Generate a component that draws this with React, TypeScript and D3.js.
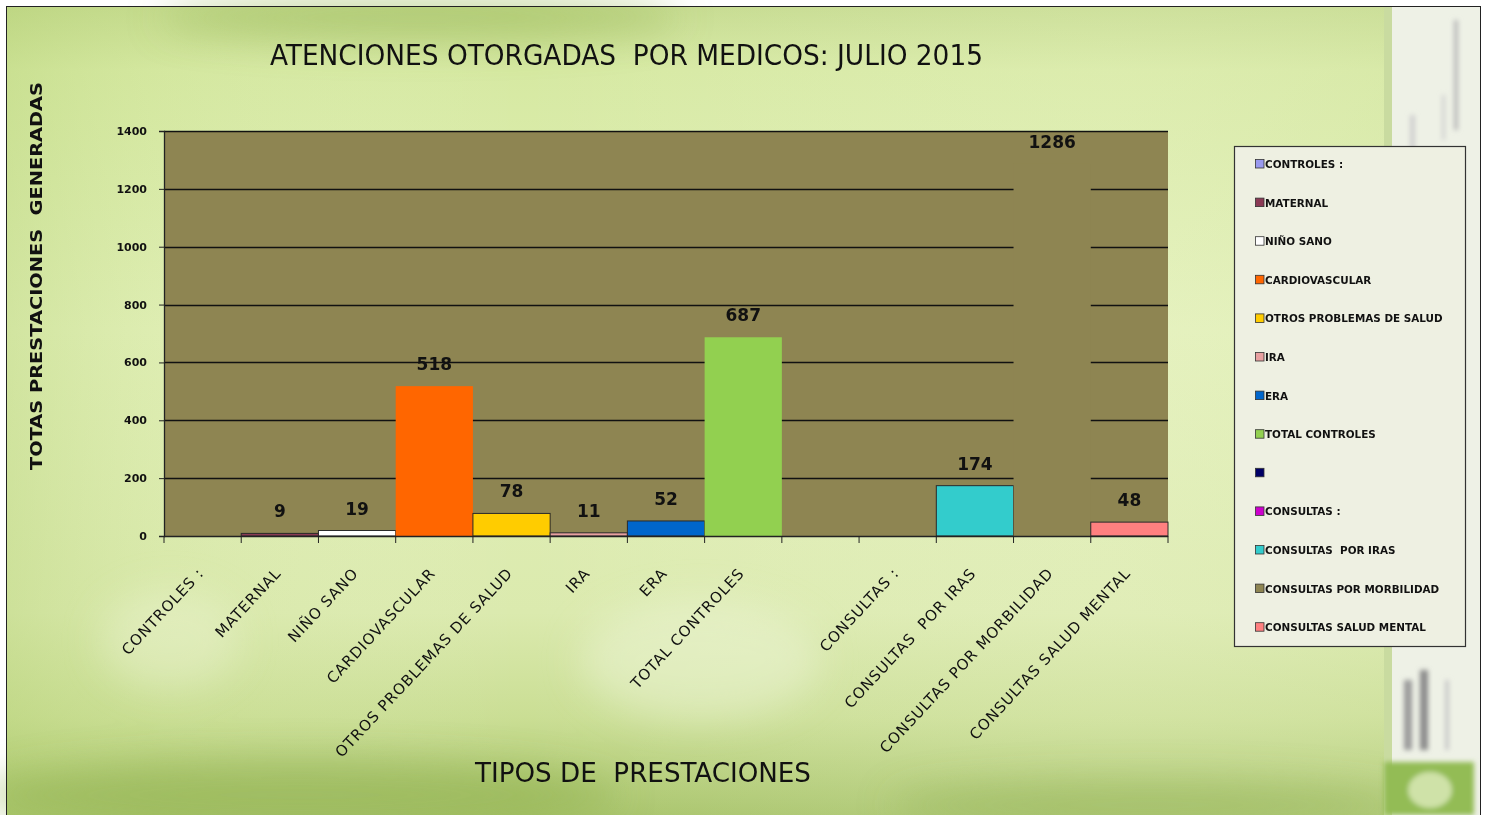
import React, { useEffect, useRef } from "react";
import * as d3 from "d3";

const categories = [
  "CONTROLES :",
  "MATERNAL",
  "NIÑO SANO",
  "CARDIOVASCULAR",
  "OTROS PROBLEMAS DE SALUD",
  "IRA",
  "ERA",
  "TOTAL CONTROLES",
  "",
  "CONSULTAS :",
  "CONSULTAS  POR IRAS",
  "CONSULTAS POR MORBILIDAD",
  "CONSULTAS SALUD MENTAL",
];

const values: (number | null)[] = [null, 9, 19, 518, 78, 11, 52, 687, null, null, 174, 1286, 48];

const yTicks = [0, 200, 400, 600, 800, 1000, 1200, 1400];

const colors = [
  "#9999EE",
  "#8B3A55",
  "#FFFFFF",
  "#FF6600",
  "#FFCC00",
  "#E8A0A0",
  "#0066CC",
  "#92D050",
  "#000066",
  "#CC00CC",
  "#33CCCC",
  "#8E8552",
  "#FF8080",
];

const outlined = [true, true, true, false, true, true, true, false, true, true, true, false, true];

const W = 1486;
const H = 815;
const plot = { left: 164, right: 1168, top: 131, bottom: 536 };
const comic = "'Comic Sans MS', 'DejaVu Sans', sans-serif";

const App = () => {
  const ref = useRef<SVGSVGElement>(null);

  useEffect(() => {
    const svg = d3.select(ref.current);
    svg.selectAll("*").remove();
    svg.attr("width", W).attr("height", H).attr("viewBox", [0, 0, W, H]);

    const defs = svg.append("defs");
    const vg = defs.append("linearGradient").attr("id", "bgv").attr("x1", 0).attr("x2", 0).attr("y1", 0).attr("y2", 1);
    [
      [0, "#c4da8c"],
      [0.08, "#d6e9a2"],
      [0.4, "#e2f0b8"],
      [0.75, "#dbeaae"],
      [0.88, "#cade94"],
      [1, "#a8c46a"],
    ].forEach(([o, c]) => vg.append("stop").attr("offset", o).attr("stop-color", c));
    const hg = defs.append("linearGradient").attr("id", "bgh").attr("x1", 0).attr("x2", 1).attr("y1", 0).attr("y2", 0);
    [
      [0, "#b2cf72", 0.35],
      [0.1, "#c4dc8c", 0.15],
      [0.35, "#ffffff", 0.0],
      [0.75, "#f4f9dc", 0.2],
      [1, "#d8e7b0", 0.3],
    ].forEach(([o, c, a]) =>
      hg.append("stop").attr("offset", o).attr("stop-color", c).attr("stop-opacity", a)
    );
    defs.append("filter").attr("id", "blur").append("feGaussianBlur").attr("stdDeviation", 18);
    defs.append("filter").attr("id", "blur2").append("feGaussianBlur").attr("stdDeviation", 2.5);

    // background picture
    svg.append("rect").attr("width", W).attr("height", H).attr("fill", "#ffffff");
    const bg = svg.append("g");
    bg.append("rect").attr("x", 6).attr("y", 6).attr("width", 1474).attr("height", H - 6).attr("fill", "url(#bgv)");
    bg.append("rect").attr("x", 6).attr("y", 6).attr("width", 1474).attr("height", H - 6).attr("fill", "url(#bgh)");
    const blobs = bg.append("g").attr("filter", "url(#blur)");
    blobs.append("ellipse").attr("cx", 420).attr("cy", 18).attr("rx", 260).attr("ry", 22).attr("fill", "#9cbc5c").attr("opacity", 0.55);
    blobs.append("ellipse").attr("cx", 300).attr("cy", 795).attr("rx", 320).attr("ry", 35).attr("fill", "#8fb050").attr("opacity", 0.55);
    blobs.append("ellipse").attr("cx", 1150).attr("cy", 805).attr("rx", 260).attr("ry", 25).attr("fill", "#8fb050").attr("opacity", 0.45);
    blobs.append("ellipse").attr("cx", 700).attr("cy", 660).attr("rx", 120).attr("ry", 60).attr("fill", "#eef5d8").attr("opacity", 0.5);
    blobs.append("ellipse").attr("cx", 170).attr("cy", 640).attr("rx", 70).attr("ry", 50).attr("fill", "#eef5d8").attr("opacity", 0.4);

    // right strip
    const strip = bg.append("g");
    strip.append("rect").attr("x", 1384).attr("y", 6).attr("width", 96).attr("height", H - 6).attr("fill", "#eef1e6");
    strip.append("rect").attr("x", 1384).attr("y", 6).attr("width", 8).attr("height", H - 6).attr("fill", "#c9dba0");
    const sb = strip.append("g").attr("filter", "url(#blur2)");
    sb.append("rect").attr("x", 1454).attr("y", 20).attr("width", 4).attr("height", 110).attr("fill", "#b8b8b8");
    sb.append("rect").attr("x", 1442).attr("y", 95).attr("width", 3).attr("height", 45).attr("fill", "#cfcfcf");
    sb.append("rect").attr("x", 1410).attr("y", 115).attr("width", 5).attr("height", 50).attr("fill", "#cfcfcf");
    sb.append("rect").attr("x", 1404).attr("y", 680).attr("width", 8).attr("height", 70).attr("fill", "#9a9a9a");
    sb.append("rect").attr("x", 1420).attr("y", 670).attr("width", 8).attr("height", 80).attr("fill", "#8a8a8a");
    sb.append("rect").attr("x", 1445).attr("y", 680).attr("width", 4).attr("height", 70).attr("fill", "#c8c8c8");
    sb.append("rect").attr("x", 1384).attr("y", 762).attr("width", 90).attr("height", 53).attr("fill", "#93bc55");
    sb.append("ellipse").attr("cx", 1430).attr("cy", 790).attr("rx", 22).attr("ry", 18).attr("fill", "#cfe2a8");

    // frame
    svg.append("line").attr("x1", 6).attr("x2", 1480).attr("y1", 6.5).attr("y2", 6.5).attr("stroke", "#222");
    svg.append("line").attr("x1", 6.5).attr("x2", 6.5).attr("y1", 6).attr("y2", H).attr("stroke", "#222");
    svg.append("line").attr("x1", 1480.5).attr("x2", 1480.5).attr("y1", 6).attr("y2", H).attr("stroke", "#222");

    const x = d3.scaleBand<number>().domain(d3.range(categories.length)).range([plot.left, plot.right]).padding(0);
    const y = d3.scaleLinear().domain([0, 1400]).range([plot.bottom, plot.top]);

    // plot area
    svg
      .append("rect")
      .attr("x", plot.left)
      .attr("y", plot.top)
      .attr("width", plot.right - plot.left)
      .attr("height", plot.bottom - plot.top)
      .attr("fill", "#8E8552");

    svg
      .append("g")
      .selectAll("line")
      .data(yTicks.filter((d) => d > 0))
      .join("line")
      .attr("x1", plot.left)
      .attr("x2", plot.right)
      .attr("y1", (d) => Math.round(y(d)) + 0.5)
      .attr("y2", (d) => Math.round(y(d)) + 0.5)
      .attr("stroke", "#111")
      .attr("stroke-width", 1.4);

    // bars
    const idx = d3.range(categories.length).filter((i) => values[i] != null);
    svg
      .append("g")
      .selectAll("rect")
      .data(idx)
      .join("rect")
      .attr("x", (i) => x(i)!)
      .attr("y", (i) => y(values[i]!))
      .attr("width", x.bandwidth())
      .attr("height", (i) => y(0) - y(values[i]!))
      .attr("fill", (i) => colors[i])
      .attr("stroke", (i) => (outlined[i] ? "#2a2a2a" : "none"))
      .attr("stroke-width", 1);

    // y axis
    const yAxis = svg
      .append("g")
      .attr("transform", `translate(${plot.left},0)`)
      .call(d3.axisLeft(y).tickValues(yTicks).tickSize(5).tickPadding(12).tickFormat(d3.format("d")));
    yAxis.select(".domain").attr("stroke", "#222").attr("stroke-width", 1.3);
    yAxis.selectAll(".tick line").attr("stroke", "#222");
    yAxis
      .selectAll(".tick text")
      .attr("font-family", "'DejaVu Sans', sans-serif")
      .attr("font-weight", "bold")
      .attr("font-size", 11)
      .attr("fill", "#111");

    // x axis
    const xAxis = svg.append("g").attr("transform", `translate(0,${plot.bottom})`);
    xAxis
      .append("line")
      .attr("x1", plot.left)
      .attr("x2", plot.right)
      .attr("y1", 0.5)
      .attr("y2", 0.5)
      .attr("stroke", "#222")
      .attr("stroke-width", 1.3);
    xAxis
      .selectAll("line.tk")
      .data(d3.range(categories.length + 1))
      .join("line")
      .attr("class", "tk")
      .attr("x1", (i) => plot.left + i * x.step())
      .attr("x2", (i) => plot.left + i * x.step())
      .attr("y1", 0)
      .attr("y2", 7)
      .attr("stroke", "#222");
    xAxis
      .selectAll("text")
      .data(d3.range(categories.length))
      .join("text")
      .attr("transform", (i) => `translate(${x(i)! + x.bandwidth() / 2 + 2},${38}) rotate(-47)`)
      .attr("text-anchor", "end")
      .attr("font-family", comic)
      .attr("font-size", 15)
      .attr("letter-spacing", 0.9)
      .attr("fill", "#111")
      .attr("xml:space", "preserve")
      .text((i) => categories[i]);

    // value labels
    svg
      .append("g")
      .selectAll("text")
      .data(idx)
      .join("text")
      .attr("x", (i) => x(i)! + x.bandwidth() / 2)
      .attr("y", (i) => y(values[i]!) - 16)
      .attr("text-anchor", "middle")
      .attr("font-family", "'DejaVu Sans', sans-serif")
      .attr("font-weight", "bold")
      .attr("font-size", 17)
      .attr("fill", "#111")
      .text((i) => String(values[i]));

    // titles
    svg
      .append("text")
      .attr("x", 270)
      .attr("y", 65)
      .attr("font-family", "'DejaVu Sans Condensed', 'DejaVu Sans', sans-serif")
      .attr("font-size", 28)
      .attr("fill", "#111")
      .attr("textLength", 713)
      .attr("lengthAdjust", "spacingAndGlyphs")
      .attr("xml:space", "preserve")
      .text("ATENCIONES OTORGADAS  POR MEDICOS: JULIO 2015");

    svg
      .append("text")
      .attr("x", 475)
      .attr("y", 782)
      .attr("font-family", "'DejaVu Sans Condensed', 'DejaVu Sans', sans-serif")
      .attr("font-size", 26)
      .attr("fill", "#111")
      .attr("textLength", 336)
      .attr("lengthAdjust", "spacingAndGlyphs")
      .attr("xml:space", "preserve")
      .text("TIPOS DE  PRESTACIONES");

    svg
      .append("text")
      .attr("transform", "translate(42,470) rotate(-90)")
      .attr("font-family", "'DejaVu Sans', sans-serif")
      .attr("font-weight", "bold")
      .attr("font-size", 16)
      .attr("fill", "#111")
      .attr("textLength", 388)
      .attr("lengthAdjust", "spacingAndGlyphs")
      .attr("xml:space", "preserve")
      .text("TOTAS PRESTACIONES  GENERADAS");

    // legend
    const lg = svg.append("g");
    lg.append("rect")
      .attr("x", 1234.5)
      .attr("y", 146.5)
      .attr("width", 231)
      .attr("height", 500)
      .attr("fill", "#eef0e2")
      .attr("stroke", "#333")
      .attr("stroke-width", 1.2);
    const items = lg
      .selectAll("g.item")
      .data(d3.range(categories.length))
      .join("g")
      .attr("class", "item")
      .attr("transform", (i) => `translate(1255,${164 + i * 38.6})`);
    items
      .append("rect")
      .attr("x", 0.5)
      .attr("y", -4.5)
      .attr("width", 8.5)
      .attr("height", 8.5)
      .attr("fill", (i) => colors[i])
      .attr("stroke", "#333")
      .attr("stroke-width", 0.8);
    items
      .append("text")
      .attr("x", 10)
      .attr("y", 4)
      .attr("font-family", "'DejaVu Sans', sans-serif")
      .attr("font-weight", "bold")
      .attr("font-size", 10.4)
      .attr("fill", "#111")
      .attr("xml:space", "preserve")
      .text((i) => categories[i]);
  }, []);

  return <svg ref={ref} style={{ position: "absolute", left: 0, top: 0 }}></svg>;
};

export default App;
